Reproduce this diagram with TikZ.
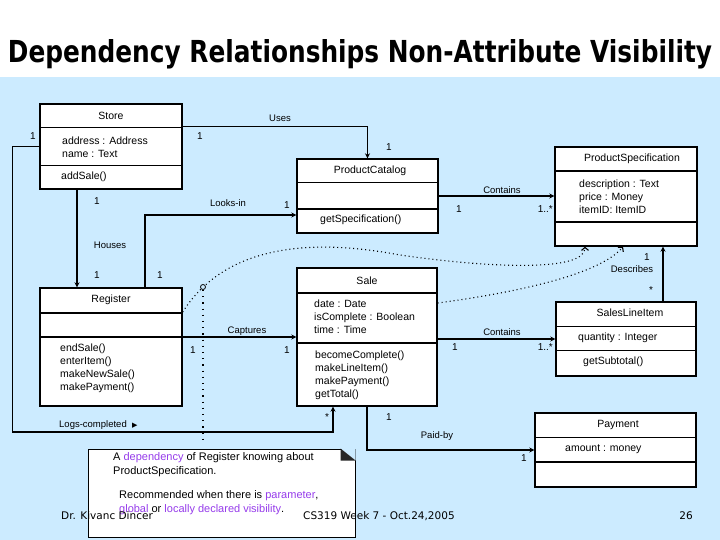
\documentclass[tikz,border=0pt]{standalone}
\usepackage{graphicx}
\usepackage{fontspec}
\setmainfont{Liberation Sans}
\newfontfamily\footfont{DejaVu Sans}
\usetikzlibrary{arrows.meta, positioning}
\definecolor{slideblue}{RGB}{204,235,255}
\definecolor{notepurple}{RGB}{150,60,235}

\begin{document}
\begin{tikzpicture}[x=1pt, y=-1pt,
    classbox/.style={draw, line width=1.4pt, fill=white, inner sep=0pt},
    sep/.style={line width=1pt},
    thicksep/.style={line width=2.4pt},
    txt/.style={inner sep=0pt, font=\fontsize{9.5}{13}\selectfont},
    members/.style={inner sep=0pt, anchor=west, align=left, font=\fontsize{10.5}{13}\selectfont},
    cname/.style={inner sep=0pt, font=\fontsize{10.5}{13}\selectfont},
    mult/.style={inner sep=0pt, font=\fontsize{10}{12}\selectfont},
    nav/.style={line width=1.1pt, -{Stealth[length=5pt, width=5pt]}},
    dep/.style={line width=1.1pt, dash pattern=on 1pt off 3pt, -{Straight Barb[length=3pt, width=7pt]}},
    notetxt/.style={inner sep=0pt, anchor=north west, align=left, font=\fontsize{11}{14}\selectfont},
    foot/.style={inner sep=0pt, font=\footfont\fontsize{10.5}{12}\selectfont}
  ]
  % slide background
  \fill[white] (0,0) rectangle (720,540);
  \fill[slideblue] (0,77) rectangle (720,540);
  \useasboundingbox (0,0) rectangle (720,540);
  \node[anchor=base, inner sep=0pt] (title) at (360,63)
    {\resizebox{704pt}{23pt}{\footfont\bfseries Dependency Relationships Non-Attribute Visibility}};

  % Store
  \node[classbox, minimum width=142pt, minimum height=85pt] (store) at (111,146.5) {};
  \draw[sep] (store.west |- 0,128) -- (store.east |- 0,128);
  \draw[sep] (store.west |- 0,166) -- (store.east |- 0,166);
  \node[cname] (store-name) at (111,116) {Store};
  \node[members] (store-attr) at (62,147) {address : Address\\name : Text};
  \node[members] (store-op) at (61,177) {addSale()};

  % ProductCatalog
  \node[classbox, minimum width=141pt, minimum height=74pt] (pcat) at (367.5,196) {};
  \draw[sep] (pcat.west |- 0,183) -- (pcat.east |- 0,183);
  \draw[thicksep] (pcat.west |- 0,209) -- (pcat.east |- 0,209);
  \node[cname] (pcat-name) at (370,171) {ProductCatalog};
  \node[members] (pcat-op) at (320,220) {getSpecification()};

  % ProductSpecification
  \node[classbox, minimum width=142pt, minimum height=99pt] (pspec) at (626,196.5) {};
  \draw[thicksep] (pspec.west |- 0,171) -- (pspec.east |- 0,171);
  \draw[thicksep] (pspec.west |- 0,222) -- (pspec.east |- 0,222);
  \node[cname] (pspec-name) at (632,159) {ProductSpecification};
  \node[members] (pspec-attr) at (579,197) {description : Text\\price : Money\\itemID: ItemID};

  % Register
  \node[classbox, minimum width=142pt, minimum height=118pt] (register) at (111,347) {};
  \draw[thicksep] (register.west |- 0,313) -- (register.east |- 0,313);
  \draw[thicksep] (register.west |- 0,337) -- (register.east |- 0,337);
  \node[cname] (register-name) at (111,300) {Register};
  \node[members] (register-op) at (60,368) {endSale()\\enterItem()\\makeNewSale()\\makePayment()};

  % Sale
  \node[classbox, minimum width=140pt, minimum height=138pt] (sale) at (367,337) {};
  \draw[thicksep] (sale.west |- 0,293) -- (sale.east |- 0,293);
  \draw[thicksep] (sale.west |- 0,343) -- (sale.east |- 0,343);
  \node[cname] (sale-name) at (367,281) {Sale};
  \node[members] (sale-attr) at (314,317) {date : Date\\isComplete : Boolean\\time : Time};
  \node[members] (sale-op) at (315,375) {becomeComplete()\\makeLineItem()\\makePayment()\\getTotal()};

  % SalesLineItem
  \node[classbox, minimum width=140pt, minimum height=74pt] (sli) at (626,339) {};
  \draw[sep] (sli.west |- 0,326) -- (sli.east |- 0,326);
  \draw[sep] (sli.west |- 0,350) -- (sli.east |- 0,350);
  \node[cname] (sli-name) at (630,313) {SalesLineItem};
  \node[members] (sli-attr) at (578,338) {quantity : Integer};
  \node[members] (sli-op) at (583,362) {getSubtotal()};

  % Payment
  \node[classbox, minimum width=161pt, minimum height=74pt] (payment) at (615.5,450) {};
  \draw[sep] (payment.west |- 0,437) -- (payment.east |- 0,437);
  \draw[thicksep] (payment.west |- 0,462) -- (payment.east |- 0,462);
  \node[cname] (payment-name) at (618,425) {Payment};
  \node[members] (payment-attr) at (565,449) {amount : money};

  % associations
  \draw[nav] ([yshift=20pt]store.east) -| (pcat.north);
  \draw[nav] ([xshift=-34pt]store.south) -- ([xshift=-34pt]register.north);
  \draw[nav] ([xshift=34pt]register.north) |- ([yshift=-19pt]pcat.west);
  \draw[nav] (pcat.east) -- (pcat.east -| pspec.west);
  \draw[nav] ([xshift=37pt]sli.north) -- ([xshift=37pt]pspec.south);
  \draw[nav] ([yshift=10pt]register.east) -- ([yshift=10pt]register.east -| sale.west);
  \draw[nav] (sli.west -| sale.east) -- (sli.west);
  \draw[nav] (sale.south) |- (payment.west);
  \coordinate (logbend) at (333,432);
  \draw[nav] (store.west) -- ++(-27,0) |- (logbend) -- (logbend |- sale.south);

  % association labels
  \node[txt] (uses) at (280,118) {Uses};
  \node[txt] (looksin) at (228,203) {Looks-in};
  \node[txt] (houses) at (110,245) {Houses};
  \node[txt] (captures) at (247,331) {Captures};
  \node[txt] (contains1) at (502,190) {Contains};
  \node[txt] (contains2) at (502,332) {Contains};
  \node[txt] (describes) at (632,269) {Describes};
  \node[txt] (paidby) at (437,436) {Paid-by};
  \node[txt, anchor=west] (logs) at (59,425) {Logs-completed\ \ {\footfont\fontsize{7}{7}\selectfont ▶}};

  % multiplicities
  \node[mult] (m-store-log) at (33,136) {1};
  \node[mult] (m-store-uses) at (200,136) {1};
  \node[mult] (m-pcat-uses) at (389,147) {1};
  \node[mult] (m-store-houses) at (97,201) {1};
  \node[mult] (m-reg-houses) at (97,275) {1};
  \node[mult] (m-reg-looks) at (160,275) {1};
  \node[mult] (m-pcat-looks) at (287,205) {1};
  \node[mult] (m-pcat-cont) at (459,209) {1};
  \node[mult, anchor=east] (m-pspec-cont) at (553,209) {1..*};
  \node[mult] (m-pspec-desc) at (647,257) {1};
  \node[mult] (m-sli-desc) at (651,290) {*};
  \node[mult] (m-reg-cap) at (193,350) {1};
  \node[mult] (m-sale-cap) at (287,350) {1};
  \node[mult] (m-sale-cont) at (455,347) {1};
  \node[mult, anchor=east] (m-sli-cont) at (553,347) {1..*};
  \node[mult] (m-sale-paid) at (389,417) {1};
  \node[mult] (m-pay-paid) at (524,458) {1};
  \node[mult] (m-sale-log) at (327,417) {*};

  % dependencies
  \draw[dep] ([yshift=35pt]register.east) .. controls (222,250) and (300,236) .. (400,255)
    .. controls (490,268) and (585,272) .. ([xshift=-41pt]pspec.south);
  \draw[dep] ([yshift=34pt]sale.east) .. controls (520,292) and (600,274) .. ([xshift=-3pt]pspec.south);
  \node[circle, draw, line width=0.8pt, fill=slideblue, minimum size=5pt, inner sep=0pt] (junc) at (203,287) {};

  % note
  \node[draw, fill=white, line width=1pt, minimum width=267pt, minimum height=88pt] (note) at (221.5,493) {};
  \fill[slideblue] (note.north east) -- ([xshift=-15pt]note.north east) -- ([yshift=-12pt]note.north east) -- cycle;
  \fill[black!85] ([xshift=-15pt]note.north east) -- ([yshift=-12pt]note.north east) -- ([xshift=-15pt, yshift=-12pt]note.north east) -- cycle;
  \draw[line width=1.2pt, dash pattern=on 1.2pt off 5pt] (junc) -- ([yshift=6pt]junc |- note.north);
  \node[notetxt] (note-a) at (113,452) {A \textcolor{notepurple}{dependency} of Register knowing about\\ProductSpecification.};
  \node[notetxt] (note-b) at (119,490) {Recommended when there is \textcolor{notepurple}{parameter},\\\textcolor{notepurple}{global} or \textcolor{notepurple}{locally declared visibility}.};

  % footer
  \node[foot, anchor=base west] (author) at (61,519) {Dr. Kivanc Dincer};
  \node[foot, anchor=base west] (course) at (303,519) {CS319 Week 7 - Oct.24,2005};
  \node[foot, anchor=base east] (page) at (693,519) {26};
\end{tikzpicture}
\end{document}
